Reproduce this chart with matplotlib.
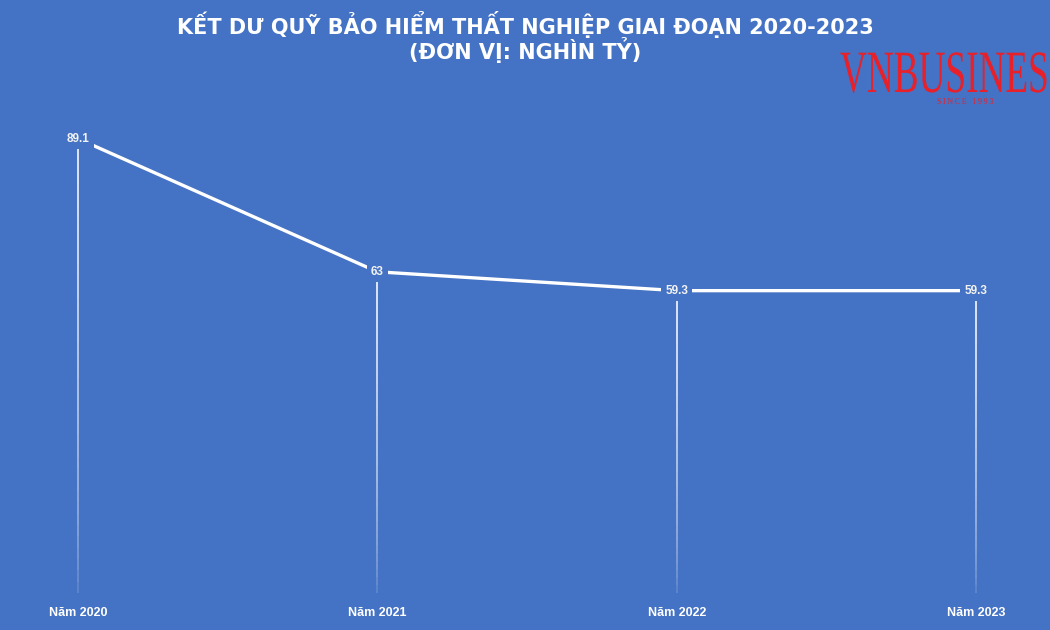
import matplotlib.pyplot as plt
import numpy as np
from matplotlib.textpath import TextPath
from matplotlib.patches import PathPatch
from matplotlib.font_manager import FontProperties
from matplotlib.transforms import Affine2D

# số liệu
nam = ["Năm 2020", "Năm 2021", "Năm 2022", "Năm 2023"]
ket_du = [89.1, 63, 59.3, 59.3]
nhan = ["89.1", "63", "59.3", "59.3"]

nen = "#4472C4"
plt.rcParams['font.family'] = ['Liberation Sans', 'DejaVu Sans']

fig = plt.figure(figsize=(10.5, 6.3), dpi=100)
fig.patch.set_facecolor(nen)
ax = fig.add_axes([0, 0, 1, 1])
ax.set_facecolor(nen)
ax.set_xlim(-0.2606, 3.247)
ax.set_ylim(-7.25, 116.3)
ax.axis('off')

x = np.arange(len(nam))

# đường thả xuống mờ dần
for xi, v in zip(x, ket_du):
    n = 40
    ys = np.linspace(v, 0, n + 1)
    for k in range(n):
        a = 0.9 * (1 - k / n) ** 0.5
        ax.plot([xi, xi], [ys[k], ys[k + 1]], color='white', lw=1.3,
                alpha=a, solid_capstyle='butt', zorder=1)

ax.plot(x, ket_du, color='white', lw=2.4, zorder=2)

for xi, v, t in zip(x, ket_du, nhan):
    ax.text(xi, v, t, ha='center', va='center', fontsize=8.5, color='#F2F2F2',
            fontweight='bold',
            bbox=dict(facecolor=nen, edgecolor='none', pad=3), zorder=3)

for xi, t in zip(x, nam):
    ax.text(xi, -3.9, t, ha='center', va='center', fontsize=9,
            fontweight='bold', color='white')

fig.text(0.5, 1 - 24 / 630, "KẾT DƯ QUỸ BẢO HIỂM THẤT NGHIỆP GIAI ĐOẠN 2020-2023",
         ha='center', va='center', fontsize=15, color='white',
         family='DejaVu Sans', fontweight='bold')
fig.text(0.5, 1 - 50 / 630, "(ĐƠN VỊ: NGHÌN TỶ)",
         ha='center', va='center', fontsize=15, color='white',
         family='DejaVu Sans', fontweight='bold')

# logo
fp = FontProperties(family='Liberation Serif')
p = TextPath((0, 0), "VNBUSINESS", size=60, prop=fp)
tr = Affine2D().scale(0.62, 1.0).translate(840, 630 - 92)
fig.patches.append(PathPatch(p, transform=tr, facecolor='#E8202A', edgecolor='none'))
fig.text(965 / 1050, 1 - 102 / 630, "S I N C E   1 9 9 3", ha='center', va='center',
         fontsize=5.5, color='#E8202A', family='Liberation Serif')

fig.savefig("out.png", dpi=100, facecolor=nen)
